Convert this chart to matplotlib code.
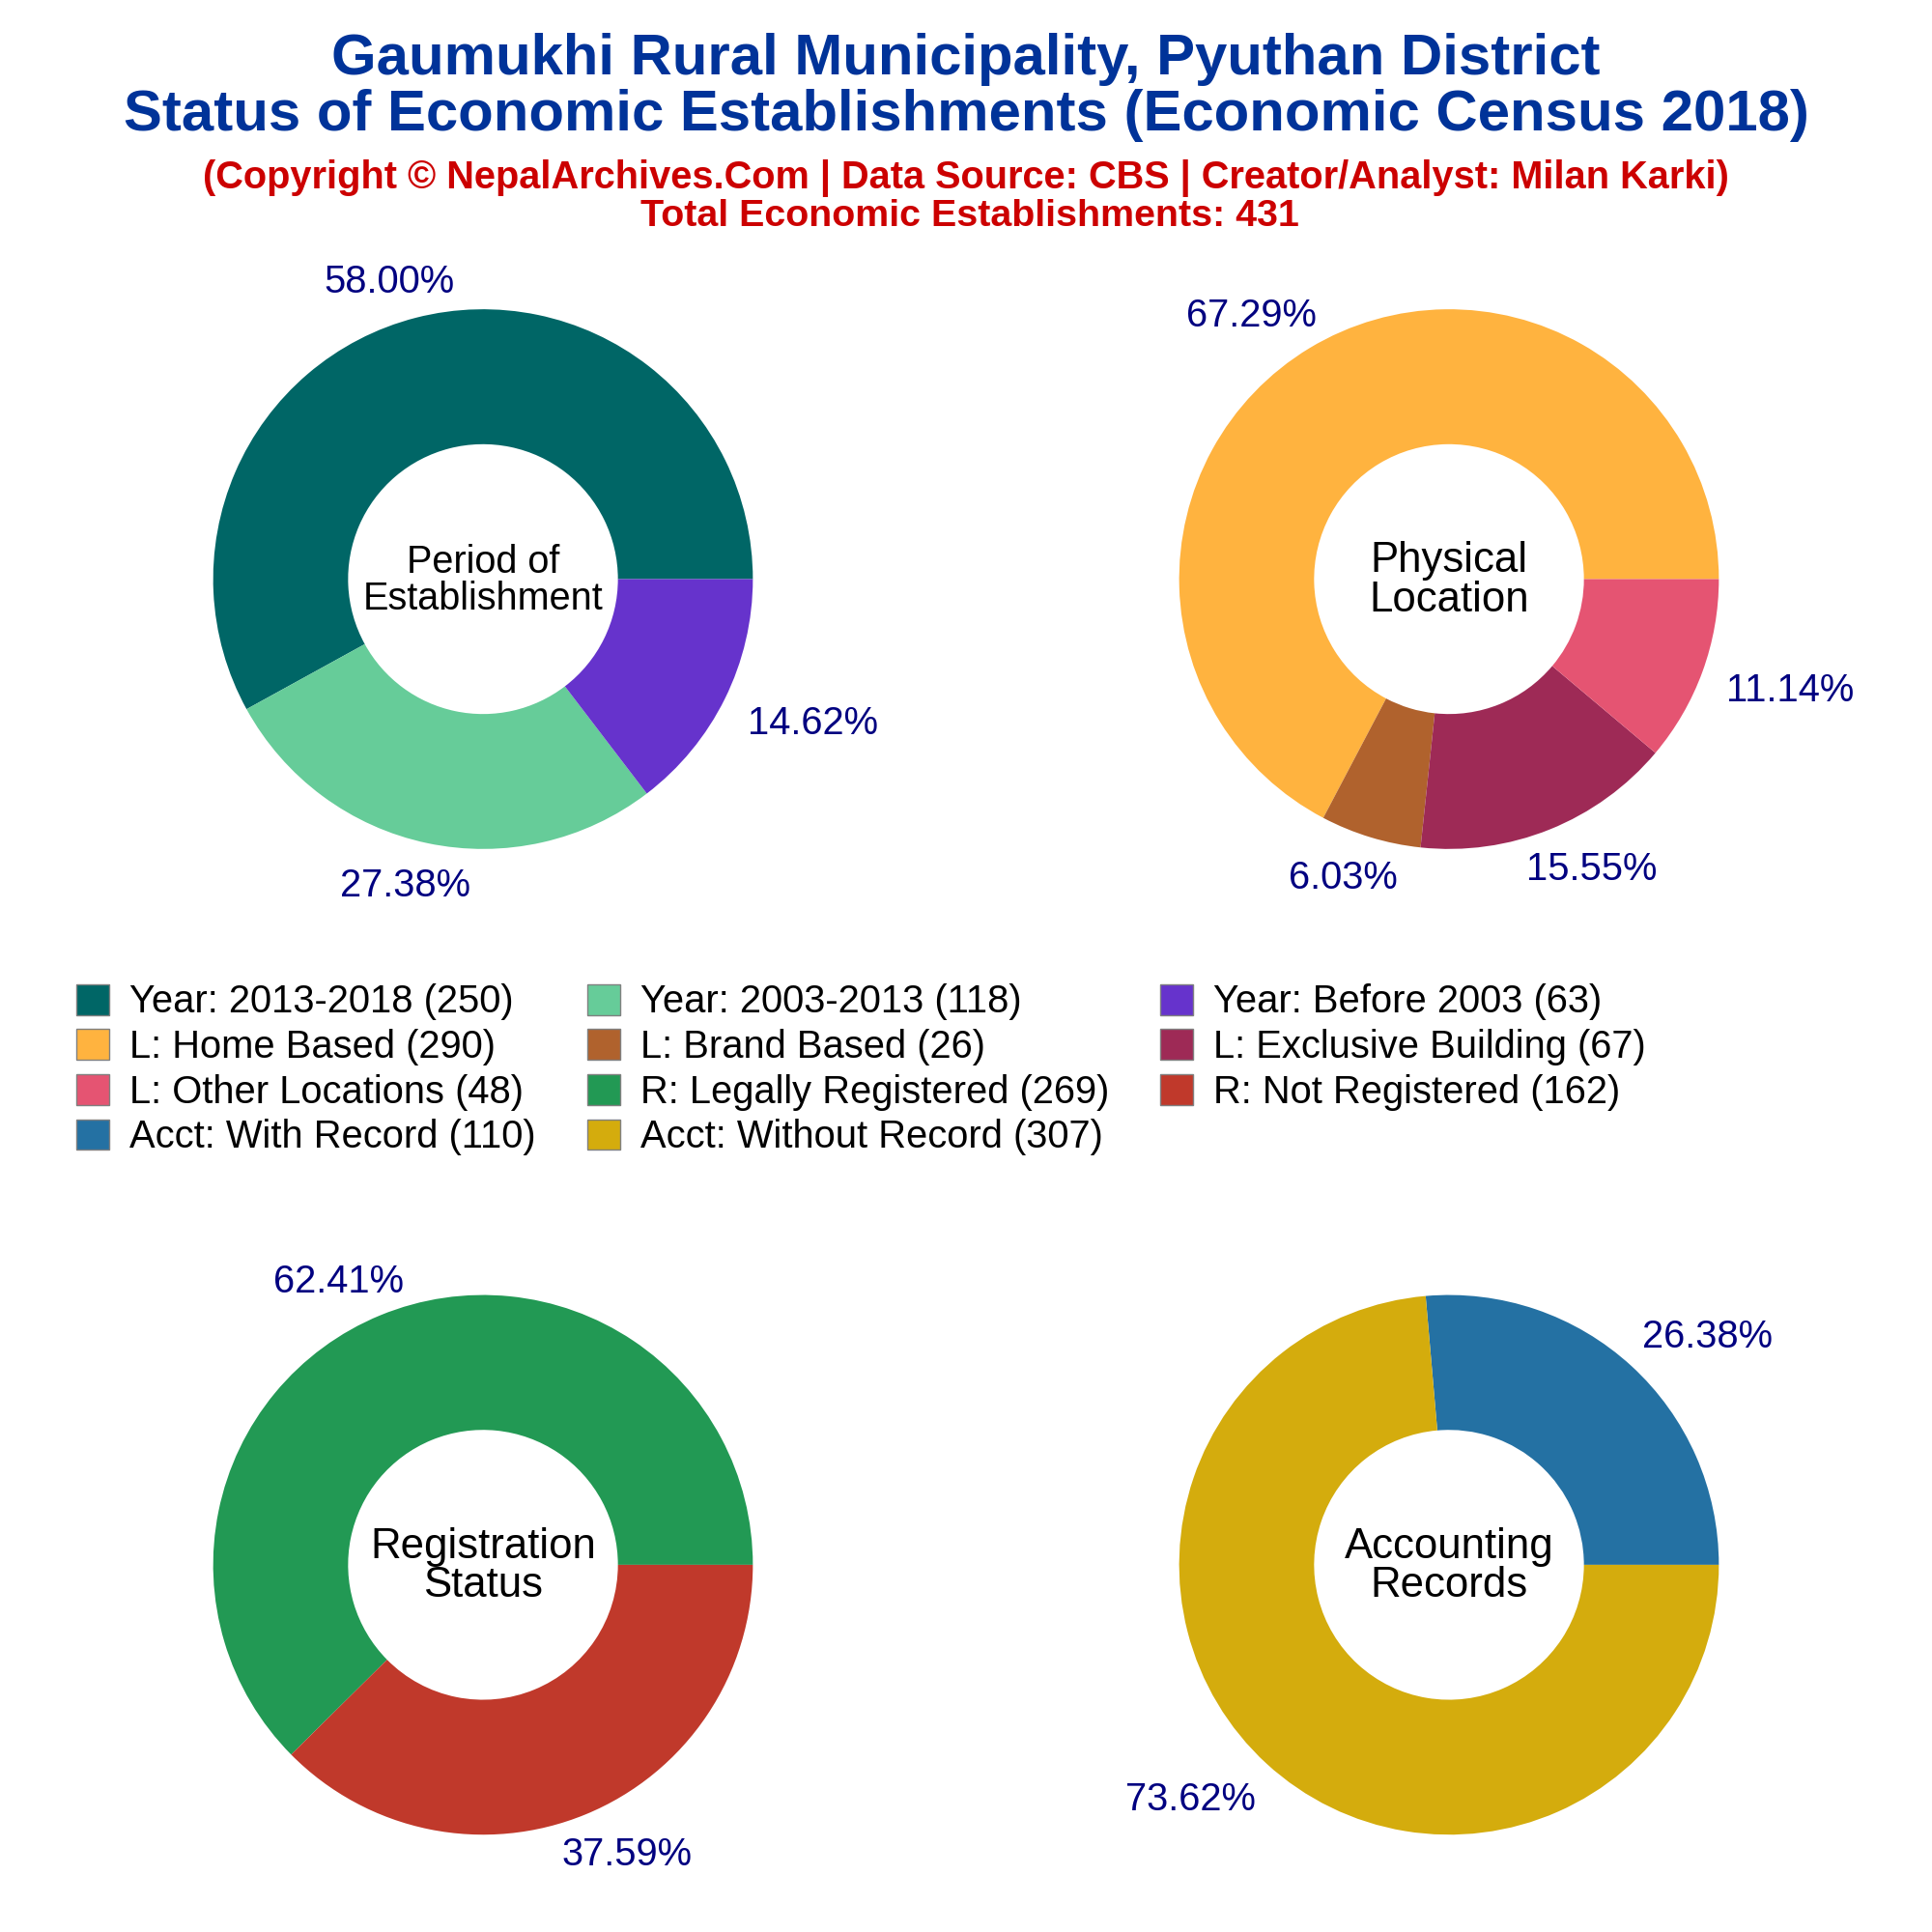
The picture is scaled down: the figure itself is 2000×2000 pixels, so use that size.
import matplotlib
matplotlib.use("Agg")
import matplotlib.pyplot as plt
from matplotlib.patches import Patch

plt.rcParams['font.family'] = ['Liberation Sans', 'DejaVu Sans']

# ---- data
period_labels = ["Year: 2013-2018", "Year: 2003-2013", "Year: Before 2003"]
period_values = [250, 118, 63]
location_labels = ["L: Home Based", "L: Brand Based", "L: Exclusive Building", "L: Other Locations"]
location_values = [290, 26, 67, 48]
registration_labels = ["R: Legally Registered", "R: Not Registered"]
registration_values = [269, 162]
accounting_labels = ["Acct: With Record", "Acct: Without Record"]
accounting_values = [110, 307]

# ---- style
period_colors = ["#006666", "#66CC99", "#6633CC"]
location_colors = ["#FFB33F", "#B0622D", "#9E2A56", "#E55472"]
registration_colors = ["#229954", "#C0392B"]
accounting_colors = ["#2471A3", "#D4AC0D"]
TITLE_COLOR = "#003399"
SUB_COLOR = "#CC0000"
PCT_COLOR = "#000080"

S = 2000 / 1568
R = 219 * S
LIM = 1.6

# label centres relative to the pie, in radii
period_pct_pos = [(-0.347, 1.10), (-0.288, -1.137), (1.224, -0.534)]
location_pct_pos = [(-0.731, 0.977), (-0.393, -1.109), (0.53, -1.077), (1.265, -0.415)]
registration_pct_pos = [(-0.534, 1.05), (0.534, -1.073)]
accounting_pct_pos = [(0.959, 0.845), (-0.959, -0.872)]

fig = plt.figure(figsize=(20, 20), dpi=100, facecolor="white")


def donut(cx, cy, values, colors, pct_pos, center, center_size):
    half = R * LIM
    ax = fig.add_axes([(cx * S - half) / 2000, 1 - (cy * S + half) / 2000, 2 * half / 2000, 2 * half / 2000])
    wedges, _, autos = ax.pie(values, colors=colors, startangle=0, radius=1,
                              wedgeprops=dict(width=0.5, linewidth=0),
                              autopct="%.2f%%", textprops=dict(fontsize=28.7, color=PCT_COLOR))
    for t, p in zip(autos, pct_pos):
        t.set_position(p)
        t.set_ha("center")
        t.set_va("center")
    ax.text(0, -0.005, center, ha="center", va="center", fontsize=center_size, color="black", linespacing=0.98)
    ax.set_xlim(-LIM, LIM)
    ax.set_ylim(-LIM, LIM)
    ax.set_aspect("equal")
    ax.axis("off")


donut(392, 470, period_values, period_colors, period_pct_pos, "Period of\nEstablishment", 28.5)
donut(1176, 470, location_values, location_colors, location_pct_pos, "Physical\nLocation", 31.5)
donut(392, 1270, registration_values, registration_colors, registration_pct_pos, "Registration\nStatus", 31.5)
donut(1176, 1270, accounting_values, accounting_colors, accounting_pct_pos, "Accounting\nRecords", 31.5)

fig.text(0.5, 1 - 48.5 * S / 2000, "Gaumukhi Rural Municipality, Pyuthan District", ha="center", va="center",
         fontsize=43.1, fontweight="bold", color=TITLE_COLOR)
fig.text(0.5, 1 - 93.5 * S / 2000, "Status of Economic Establishments (Economic Census 2018)", ha="center", va="center",
         fontsize=43.1, fontweight="bold", color=TITLE_COLOR)
fig.text(0.5, 1 - 145 * S / 2000, "(Copyright \u00a9 NepalArchives.Com | Data Source: CBS | Creator/Analyst: Milan Karki)",
         ha="center", va="center", fontsize=28.6, fontweight="bold", color=SUB_COLOR)
fig.text(0.502, 1 - 176 * S / 2000, "Total Economic Establishments: 431",
         ha="center", va="center", fontsize=28.4, fontweight="bold", color=SUB_COLOR)

all_labels = period_labels + location_labels + registration_labels + accounting_labels
all_values = period_values + location_values + registration_values + accounting_values
all_colors = period_colors + location_colors + registration_colors + accounting_colors
entries = [(f"{l} ({v})", c) for l, v, c in zip(all_labels, all_values, all_colors)]
order = [0, 3, 6, 9, 1, 4, 7, 10, 2, 5, 8]
handles = [Patch(facecolor=entries[i][1], edgecolor="#808080", linewidth=1) for i in order]
names = [entries[i][0] for i in order]
fig.legend(handles, names, ncol=3, frameon=False, fontsize=28.7,
           loc="upper left", bbox_to_anchor=(62 * S / 2000, 1 - 798.5 * S / 2000),
           handlelength=0.85, handleheight=0.85, handletextpad=0.53, columnspacing=1.33,
           labelspacing=0.215, borderpad=0, borderaxespad=0)

fig.savefig("out.png", dpi=100, facecolor="white")
